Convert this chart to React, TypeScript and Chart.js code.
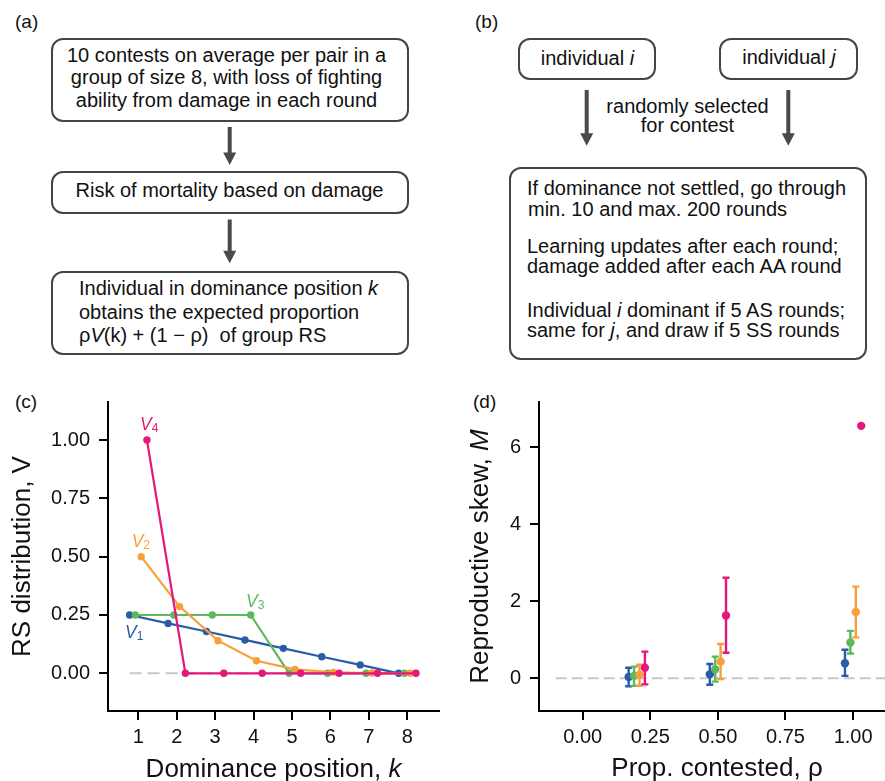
import React, { useEffect, useRef } from "react";
import { Chart, registerables } from "chart.js";

Chart.register(...registerables);

const FONT = '"Liberation Sans", Arial, Helvetica, sans-serif';

// ---------- Panel (c): RS distributions ----------
const positionsK = [1, 2, 3, 4, 5, 6, 7, 8];
const V1 = [0.25, 0.214, 0.179, 0.143, 0.107, 0.071, 0.036, 0.0];
const V2 = [0.5, 0.286, 0.14, 0.054, 0.017, 0.004, 0.001, 0.0];
const V3 = [0.25, 0.25, 0.25, 0.25, 0.0, 0.0, 0.0, 0.0];
const V4 = [1.0, 0.0, 0.0, 0.0, 0.0, 0.0, 0.0, 0.0];
const xTicksC = [1, 2, 3, 4, 5, 6, 7, 8];
const yTicksC = [0, 0.25, 0.5, 0.75, 1.0];

// ---------- Panel (d): reproductive skew ----------
const rhoValues = [0.2, 0.5, 1.0];
const M_V1 = [0.03, 0.1, 0.39];
const M_V1_lo = [-0.21, -0.17, 0.06];
const M_V1_hi = [0.27, 0.37, 0.74];
const M_V3 = [0.06, 0.23, 0.93];
const M_V3_lo = [-0.2, -0.09, 0.64];
const M_V3_hi = [0.3, 0.56, 1.23];
const M_V2 = [0.09, 0.43, 1.72];
const M_V2_lo = [-0.2, -0.02, 1.06];
const M_V2_hi = [0.35, 0.89, 2.38];
const M_V4 = [0.27, 1.63, 6.56];
const M_V4_lo = [-0.16, 0.66, 6.56];
const M_V4_hi = [0.69, 2.61, 6.56];
const xTicksD = [0, 0.25, 0.5, 0.75, 1.0];
const yTicksD = [0, 2, 4, 6];

const COLORS = {
  V1: "#2b5ba8",
  V2: "#f7a03a",
  V3: "#5db95c",
  V4: "#e5177a",
  zero: "#c8c8c8",
};

const seriesC = [
  { name: "V1", values: V1, color: COLORS.V1, dodge: -0.225, order: 4 },
  { name: "V3", values: V3, color: COLORS.V3, dodge: -0.075, order: 3 },
  { name: "V2", values: V2, color: COLORS.V2, dodge: 0.075, order: 2 },
  { name: "V4", values: V4, color: COLORS.V4, dodge: 0.225, order: 1 },
];

const seriesD = [
  { name: "V1", m: M_V1, lo: M_V1_lo, hi: M_V1_hi, color: COLORS.V1, dodge: -0.03 },
  { name: "V3", m: M_V3, lo: M_V3_lo, hi: M_V3_hi, color: COLORS.V3, dodge: -0.01 },
  { name: "V2", m: M_V2, lo: M_V2_lo, hi: M_V2_hi, color: COLORS.V2, dodge: 0.01 },
  { name: "V4", m: M_V4, lo: M_V4_lo, hi: M_V4_hi, color: COLORS.V4, dodge: 0.03 },
];

// curve labels (data coords: left edge / baseline)
const curveLabels = [
  { sub: "1", k: 0.654, v: 0.15, color: COLORS.V1 },
  { sub: "2", k: 0.828, v: 0.543, color: COLORS.V2 },
  { sub: "3", k: 3.803, v: 0.285, color: COLORS.V3 },
  { sub: "4", k: 1.044, v: 1.043, color: COLORS.V4 },
];

type Part = { t: string; italic?: boolean; size: number; dy?: number; color?: string };

function drawRich(ctx: CanvasRenderingContext2D, parts: Part[], x: number, y: number, align: "left" | "center") {
  let total = 0;
  const widths = parts.map((p) => {
    ctx.font = `${p.italic ? "italic " : ""}${p.size}px ${FONT}`;
    const w = ctx.measureText(p.t).width;
    total += w;
    return w;
  });
  let cx = align === "center" ? x - total / 2 : x;
  ctx.textBaseline = "alphabetic";
  ctx.textAlign = "left";
  parts.forEach((p, i) => {
    ctx.font = `${p.italic ? "italic " : ""}${p.size}px ${FONT}`;
    if (p.color) ctx.fillStyle = p.color;
    ctx.fillText(p.t, cx, y + (p.dy || 0));
    cx += widths[i];
  });
}

const TICK_FONT = { family: FONT, size: 20 };
const TITLE_SIZE = 26;

function axisCommon(ticksList: number[], fmt: (v: number) => string, padding: number) {
  return {
    type: "linear" as const,
    afterBuildTicks: (s: any) => {
      s.ticks = ticksList.map((v) => ({ value: v }));
    },
    ticks: {
      font: TICK_FONT,
      color: "#111",
      padding,
      autoSkip: false,
      maxRotation: 0,
      callback: (v: any) => fmt(Number(v)),
    },
    grid: {
      display: true,
      drawOnChartArea: false,
      drawTicks: true,
      tickLength: 9,
      color: "#000",
      lineWidth: 2,
    },
    border: { display: true, color: "#000", width: 2 },
    title: { display: false },
  };
}

function ChartC() {
  const ref = useRef<HTMLCanvasElement>(null);
  useEffect(() => {
    if (!ref.current) return;
    const datasets: any[] = seriesC.map((s) => ({
      label: s.name,
      data: positionsK.map((k, i) => ({ x: k + s.dodge, y: s.values[i] })),
      showLine: true,
      borderColor: s.color,
      backgroundColor: s.color,
      borderWidth: 2.2,
      pointRadius: 3.7,
      pointBorderWidth: 0,
      order: s.order,
    }));
    datasets.push({
      label: "zero",
      data: [
        { x: 0.775, y: 0 },
        { x: 8.225, y: 0 },
      ],
      showLine: true,
      borderColor: COLORS.zero,
      borderDash: [12, 6],
      borderWidth: 2,
      pointRadius: 0,
      order: 10,
    });

    const decor = {
      id: "decorC",
      afterDraw(chart: any) {
        const { ctx, chartArea, scales } = chart;
        ctx.save();
        ctx.fillStyle = "#111";
        drawRich(
          ctx,
          [
            { t: "Dominance position, ", size: TITLE_SIZE },
            { t: "k", italic: true, size: TITLE_SIZE },
          ],
          (chartArea.left + chartArea.right) / 2,
          chartArea.bottom + 65.7,
          "center"
        );
        ctx.save();
        ctx.translate(chartArea.left - 78, (chartArea.top + chartArea.bottom) / 2);
        ctx.rotate(-Math.PI / 2);
        drawRich(ctx, [{ t: "RS distribution, V", size: TITLE_SIZE }], 0, 0, "center");
        ctx.restore();
        curveLabels.forEach((l) => {
          const px = scales.x.getPixelForValue(l.k);
          const py = scales.y.getPixelForValue(l.v);
          drawRich(
            ctx,
            [
              { t: "V", italic: true, size: 17.5, color: l.color },
              { t: l.sub, size: 12, dy: 2, color: l.color },
            ],
            px,
            py,
            "left"
          );
        });
        ctx.restore();
      },
    };

    const chart = new Chart(ref.current, {
      type: "scatter",
      data: { datasets },
      options: {
        animation: false,
        responsive: false,
        devicePixelRatio: 1,
        layout: { padding: { left: 0, top: 32, right: 6, bottom: 0 } },
        plugins: { legend: { display: false }, tooltip: { enabled: false } },
        scales: {
          x: {
            ...axisCommon(xTicksC, (v) => String(v), 5),
            min: 0.212,
            max: 8.825,
            afterFit: (s: any) => {
              s.height = 70;
            },
          },
          y: {
            ...axisCommon(yTicksC, (v) => v.toFixed(2), 9),
            min: -0.1616,
            max: 1.163,
            afterFit: (s: any) => {
              s.width = 108;
            },
          },
        } as any,
      },
      plugins: [decor],
    });
    return () => chart.destroy();
  }, []);
  return (
    <canvas
      ref={ref}
      width={445}
      height={411}
      style={{ position: "absolute", left: 0, top: 370 }}
    />
  );
}

function ChartD() {
  const ref = useRef<HTMLCanvasElement>(null);
  useEffect(() => {
    if (!ref.current) return;
    const datasets: any[] = seriesD.map((s, si) => ({
      label: s.name,
      data: rhoValues.map((r, i) => ({ x: r + s.dodge, y: s.m[i] })),
      errLo: s.lo,
      errHi: s.hi,
      showLine: false,
      borderColor: s.color,
      backgroundColor: s.color,
      pointRadius: 4.2,
      pointBorderWidth: 0,
      order: 4 - si,
    }));
    datasets.push({
      label: "zero",
      data: [
        { x: -0.1, y: 0 },
        { x: 1.4, y: 0 },
      ],
      showLine: true,
      borderColor: COLORS.zero,
      borderDash: [11, 5],
      borderWidth: 2,
      pointRadius: 0,
      order: 10,
    });

    const errBars = {
      id: "errBars",
      beforeDatasetDraw(chart: any, args: any) {
        const ds = chart.data.datasets[args.index];
        if (!ds.errLo) return;
        const { ctx, scales } = chart;
        ctx.save();
        ctx.strokeStyle = ds.borderColor;
        ctx.lineWidth = 2.4;
        ds.data.forEach((p: any, i: number) => {
          if (ds.errLo[i] === ds.errHi[i]) return;
          const px = scales.x.getPixelForValue(p.x);
          const lo = scales.y.getPixelForValue(ds.errLo[i]);
          const hi = scales.y.getPixelForValue(ds.errHi[i]);
          ctx.beginPath();
          ctx.moveTo(px, lo);
          ctx.lineTo(px, hi);
          ctx.moveTo(px - 3.5, lo);
          ctx.lineTo(px + 3.5, lo);
          ctx.moveTo(px - 3.5, hi);
          ctx.lineTo(px + 3.5, hi);
          ctx.stroke();
        });
        ctx.restore();
      },
    };

    const decor = {
      id: "decorD",
      afterDraw(chart: any) {
        const { ctx, chartArea } = chart;
        ctx.save();
        ctx.fillStyle = "#111";
        drawRich(
          ctx,
          [{ t: "Prop. contested, \u03c1", size: TITLE_SIZE }],
          (chartArea.left + chartArea.right) / 2,
          chartArea.bottom + 65,
          "center"
        );
        ctx.save();
        ctx.translate(chartArea.left - 51.5, (chartArea.top + chartArea.bottom) / 2);
        ctx.rotate(-Math.PI / 2);
        drawRich(
          ctx,
          [
            { t: "Reproductive skew, ", size: TITLE_SIZE },
            { t: "M", italic: true, size: TITLE_SIZE },
          ],
          0,
          0,
          "center"
        );
        ctx.restore();
        ctx.restore();
      },
    };

    const chart = new Chart(ref.current, {
      type: "scatter",
      data: { datasets },
      options: {
        animation: false,
        responsive: false,
        devicePixelRatio: 1,
        layout: { padding: { left: 0, top: 32, right: 10, bottom: 0 } },
        plugins: { legend: { display: false }, tooltip: { enabled: false } },
        scales: {
          x: {
            ...axisCommon(xTicksD, (v) => v.toFixed(2), 5),
            min: -0.1616,
            max: 1.155,
            afterFit: (s: any) => {
              s.height = 70;
            },
          },
          y: {
            ...axisCommon(yTicksD, (v) => String(v), 9),
            min: -0.853,
            max: 7.18,
            afterFit: (s: any) => {
              s.width = 94;
            },
          },
        } as any,
      },
      plugins: [errBars, decor],
    });
    return () => chart.destroy();
  }, []);
  return (
    <canvas
      ref={ref}
      width={460}
      height={411}
      style={{ position: "absolute", left: 445, top: 370 }}
    />
  );
}

// ---------- diagram helpers ----------
const TXT = "#111";
const BOX_FONT = 20;

function Txt(props: { x: number; b: number; align?: "left" | "center"; size?: number; children: any }) {
  const size = props.size || BOX_FONT;
  const style: any = {
    position: "absolute",
    top: props.b - 0.8465 * size,
    fontSize: size,
    lineHeight: `${size}px`,
    whiteSpace: "nowrap",
    fontFamily: FONT,
    color: TXT,
  };
  if (props.align === "center") {
    style.left = props.x - 300;
    style.width = 600;
    style.textAlign = "center";
  } else {
    style.left = props.x;
  }
  return <div style={style}>{props.children}</div>;
}

function Box(props: { l: number; t: number; r: number; b: number }) {
  return (
    <div
      style={{
        position: "absolute",
        left: props.l,
        top: props.t,
        width: props.r - props.l,
        height: props.b - props.t,
        border: "2px solid #454545",
        borderRadius: 12,
        boxSizing: "border-box",
      }}
    />
  );
}

function arrowPath(x: number, y1: number, y2: number) {
  const hw = 6.5;
  const hh = 12.5;
  const sw = 2;
  return `M${x - sw},${y1} L${x + sw},${y1} L${x + sw},${y2 - hh} L${x + hw},${y2 - hh} L${x},${y2} L${x - hw},${y2 - hh} L${x - sw},${y2 - hh} Z`;
}

const I = (p: { children: any }) => <span style={{ fontStyle: "italic" }}>{p.children}</span>;

export default function App() {
  return (
    <div
      style={{
        position: "absolute",
        left: 0,
        top: 0,
        width: 885,
        height: 781,
        overflow: "hidden",
        background: "#fff",
        fontFamily: FONT,
      }}
    >
      {/* panel labels */}
      <Txt x={15} b={28.5} size={19}>(a)</Txt>
      <Txt x={475} b={28.5} size={19}>(b)</Txt>
      <Txt x={15} b={408} size={19}>(c)</Txt>
      <Txt x={473} b={408} size={19}>(d)</Txt>

      {/* panel (a) */}
      <Box l={51} t={38} r={409} b={122} />
      <Txt x={226.5} b={61.5} align="center">10 contests on average per pair in a</Txt>
      <Txt x={226.5} b={84} align="center">group of size 8, with loss of fighting</Txt>
      <Txt x={226.5} b={106.5} align="center">ability from damage in each round</Txt>

      <Box l={51} t={171} r={409} b={213.5} />
      <Txt x={229.5} b={196.5} align="center">Risk of mortality based on damage</Txt>

      <Box l={51} t={271} r={409} b={354.5} />
      <Txt x={79} b={295}>
        Individual in dominance position <I>k</I>
      </Txt>
      <Txt x={79} b={318.5}>obtains the expected proportion</Txt>
      <Txt x={79} b={342}>
        {"\u03c1"}
        <I>V</I>(k) + (1 {"\u2212"} {"\u03c1"}){"\u00a0"} of group RS
      </Txt>

      {/* panel (b) */}
      <Box l={518} t={38} r={656} b={80} />
      <Txt x={587.5} b={65} align="center">
        individual <I>i</I>
      </Txt>
      <Box l={719} t={38} r={858} b={80} />
      <Txt x={789} b={64} align="center">
        individual <I>j</I>
      </Txt>
      <Txt x={687.5} b={113.3} align="center">randomly selected</Txt>
      <Txt x={687.5} b={131.7} align="center">for contest</Txt>

      <Box l={509} t={167} r={867} b={359.5} />
      <Txt x={527} b={195}>If dominance not settled, go through</Txt>
      <Txt x={528} b={216}>min. 10 and max. 200 rounds</Txt>
      <Txt x={527} b={253.3}>Learning updates after each round;</Txt>
      <Txt x={527} b={273.3}>damage added after each AA round</Txt>
      <Txt x={527} b={316.7}>
        Individual <I>i</I> dominant if 5 AS rounds;
      </Txt>
      <Txt x={527} b={336.7}>
        same for <I>j</I>, and draw if 5 SS rounds
      </Txt>

      <svg
        width={885}
        height={370}
        style={{ position: "absolute", left: 0, top: 0 }}
      >
        <path d={arrowPath(229.7, 127, 165)} fill="#4a4a4a" />
        <path d={arrowPath(229.7, 219.5, 263.3)} fill="#4a4a4a" />
        <path d={arrowPath(586.7, 90, 145.7)} fill="#4a4a4a" />
        <path d={arrowPath(788.3, 90, 145.7)} fill="#4a4a4a" />
      </svg>

      <ChartC />
      <ChartD />
    </div>
  );
}
